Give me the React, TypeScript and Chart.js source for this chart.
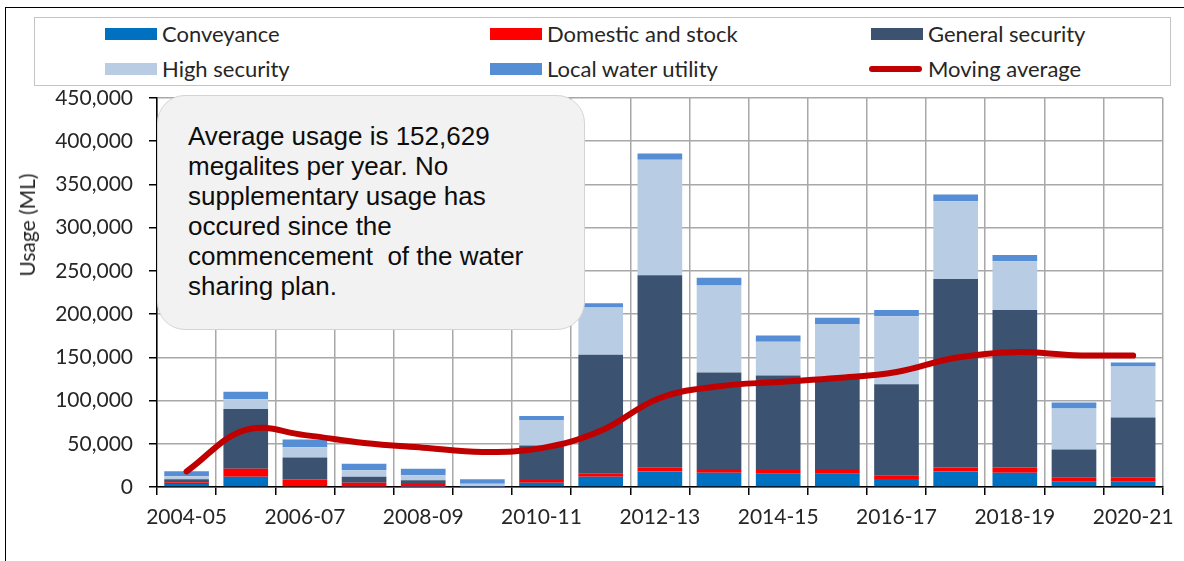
import React, { useEffect, useRef } from 'react';
import { Chart, registerables } from 'chart.js';

Chart.register(...registerables);

const categories = [
  '2004-05', '2005-06', '2006-07', '2007-08', '2008-09', '2009-10', '2010-11', '2011-12', '2012-13',
  '2013-14', '2014-15', '2015-16', '2016-17', '2017-18', '2018-19', '2019-20', '2020-21',
];

const conveyance = [3500, 12000, 1000, 500, 300, 200, 5000, 12000, 18000, 16500, 15400, 15400, 9200, 18000, 16500, 6100, 6100];
const domesticAndStock = [2000, 9200, 7700, 4400, 3100, 300, 3100, 3900, 4200, 4300, 4300, 5400, 4300, 4600, 6200, 4600, 4600];
const generalSecurity = [3500, 69000, 25400, 6900, 4300, 500, 40000, 137000, 222700, 111700, 109400, 105000, 105500, 218000, 182100, 32800, 69800];
const highSecurity = [3500, 11200, 12000, 7700, 5800, 2700, 29300, 54800, 133700, 100500, 38800, 62700, 78600, 90100, 56300, 47400, 58900];
const localWaterUtility = [5800, 8800, 8900, 7300, 7600, 5400, 4600, 5000, 7300, 9200, 7400, 7400, 7300, 7700, 7300, 6900, 4600];
const movingAverage = [18000, 66000, 60000, 51000, 45500, 40500, 45000, 65000, 103000, 116500, 121500, 126000, 133000, 149500, 156000, 152500, 152000];

const seriesNames = ['Conveyance', 'Domestic and stock', 'General security', 'High security', 'Local water utility', 'Moving average'];
const seriesColors = ['#0070C0', '#FF0000', '#3B5270', '#B8CCE4', '#558ED5', '#C00000'];

const yMin = 0;
const yMax = 450000;
const yStep = 50000;
const yTitle = 'Usage (ML)';
const noteLines = [
  'Average usage is 152,629',
  'megalites per year. No',
  'supplementary usage has',
  'occured since the',
  'commencement  of the water',
  'sharing plan.',
];

const TICK_FONT = { family: 'Lato, "Open Sans", sans-serif', size: 21 };

export default function App() {
  const canvasRef = useRef<HTMLCanvasElement>(null);

  useEffect(() => {
    document.body.style.margin = '0';
    const barSeries = [conveyance, domesticAndStock, generalSecurity, highSecurity, localWaterUtility];
    const datasets: any[] = barSeries.map((data, i) => ({
      type: 'bar',
      label: seriesNames[i],
      data,
      backgroundColor: seriesColors[i],
      borderWidth: 0,
      stack: 'usage',
      order: 1,
      barPercentage: 0.755,
      categoryPercentage: 1,
    }));
    datasets.push({
      type: 'line',
      label: seriesNames[5],
      data: movingAverage,
      borderColor: seriesColors[5],
      backgroundColor: seriesColors[5],
      borderWidth: 6,
      pointRadius: 0,
      tension: 0.4,
      borderCapStyle: 'round',
      stack: 'avg',
      order: 0,
      fill: false,
    });

    const chart = new Chart(canvasRef.current as HTMLCanvasElement, {
      type: 'bar',
      data: { labels: categories, datasets },
      options: {
        responsive: false,
        animation: false,
        layout: { padding: { top: 98, right: 14, bottom: 0, left: 0 } },
        plugins: { legend: { display: false }, tooltip: { enabled: false } },
        scales: {
          x: {
            stacked: true,
            offset: true,
            grid: { offset: true, color: '#a8a8a8', lineWidth: 1.5, tickColor: '#000', tickLength: 8 },
            border: { color: '#000', width: 1.5 },
            ticks: {
              autoSkip: false,
              maxRotation: 0,
              minRotation: 0,
              padding: 10,
              color: '#262626',
              font: TICK_FONT,
              callback: (_v: any, i: number) => (i % 2 === 0 ? categories[i] : ''),
            },
            afterFit: (scale: any) => {
              scale.height = 74;
            },
          },
          y: {
            stacked: true,
            min: yMin,
            max: yMax,
            grid: { color: '#a8a8a8', lineWidth: 1.5, tickColor: '#000', tickLength: 8 },
            border: { color: '#000', width: 1.5 },
            ticks: {
              stepSize: yStep,
              padding: 16,
              color: '#262626',
              font: TICK_FONT,
              callback: (v: any) => Number(v).toLocaleString('en-US'),
            },
            afterFit: (scale: any) => {
              scale.width = 157;
            },
          },
        },
      } as any,
    });
    return () => {
      chart.destroy();
    };
  }, []);

  const legendCols = [105, 490, 871];
  const legendRows = [34, 69];

  return (
    <div style={{ position: 'fixed', left: 0, top: 0, width: 1184, height: 561, background: '#fff', overflow: 'hidden' }}>
      <div style={{ position: 'absolute', left: 5, top: 7, width: 1200, height: 600, border: '1px solid #000', boxSizing: 'border-box' }} />
      <canvas ref={canvasRef} width={1184} height={561} style={{ position: 'absolute', left: 0, top: 0 }} />
      <div style={{ position: 'absolute', left: 34, top: 17, width: 1137, height: 69, border: '1px solid #c4c4c4', boxSizing: 'border-box', background: '#fff' }} />
      {seriesNames.map((name, i) => {
        const col = i % 3;
        const row = Math.floor(i / 3);
        const x = legendCols[col];
        const y = legendRows[row];
        const isLine = i === 5;
        return (
          <div key={name}>
            <div
              style={{
                position: 'absolute',
                left: isLine ? x - 2 : x,
                top: isLine ? y - 3 : y - 6,
                width: isLine ? 53 : 52,
                height: isLine ? 6 : 12,
                borderRadius: isLine ? 3 : 0,
                background: seriesColors[i],
              }}
            />
            <div
              style={{
                position: 'absolute',
                left: x + 57,
                top: y - 14,
                height: 28,
                lineHeight: '28px',
                fontFamily: 'Lato, sans-serif',
                fontSize: 22,
                color: '#262626',
                whiteSpace: 'nowrap',
              }}
            >
              {name}
            </div>
          </div>
        );
      })}
      <div
        style={{
          position: 'absolute',
          left: 27,
          top: 225,
          transform: 'translate(-50%, -50%) rotate(-90deg)',
          fontFamily: 'Lato, sans-serif',
          fontSize: 21,
          color: '#262626',
          whiteSpace: 'nowrap',
          lineHeight: '24px',
        }}
      >
        {yTitle}
      </div>
      <div
        style={{
          position: 'absolute',
          left: 157,
          top: 95,
          width: 428,
          height: 235,
          boxSizing: 'border-box',
          borderRadius: 28,
          background: '#f2f2f2',
          border: '1px solid #d4d4d4',
          paddingLeft: 30,
          paddingTop: 25,
          fontFamily: '"Liberation Sans", Arial, sans-serif',
          fontSize: 26,
          lineHeight: '30px',
          color: '#0d0d0d',
          whiteSpace: 'pre',
        }}
      >
        {noteLines.map((l) => (
          <div key={l}>{l}</div>
        ))}
      </div>
    </div>
  );
}
